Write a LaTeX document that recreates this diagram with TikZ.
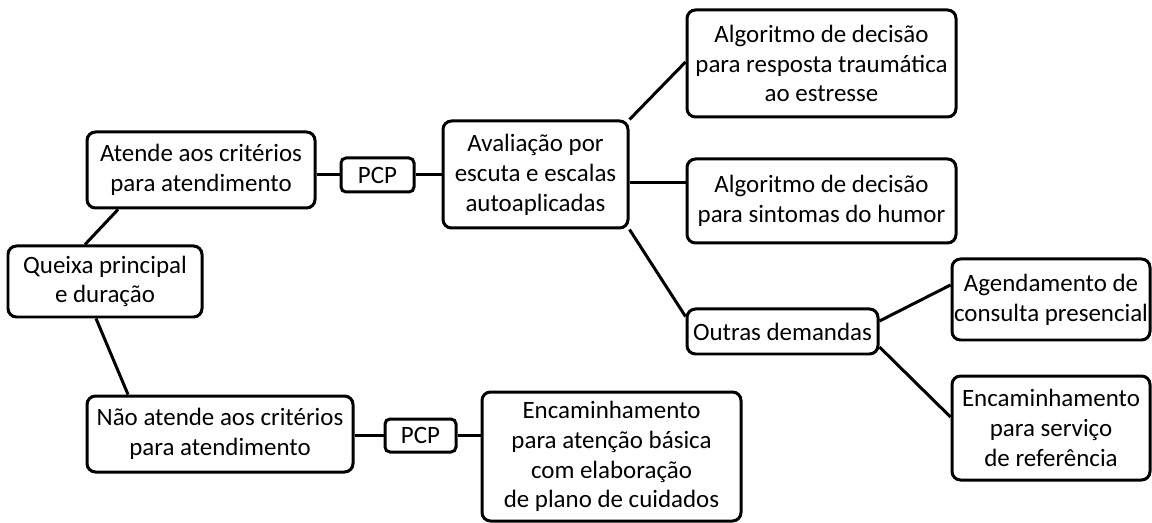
\documentclass[tikz,border=0pt]{standalone}
\usepackage{fontspec}
\setmainfont{Carlito}
\usetikzlibrary{positioning}

\tikzset{
  box/.style={draw, line width=0.06cm, rounded corners=0.17cm, align=center,
    inner sep=0pt, font=\fontsize{14.2}{17}\selectfont},
  pcpbox/.style={box, rounded corners=0.1cm},
  link/.style={line width=0.06cm}
}

\begin{document}
\begin{tikzpicture}[x=0.02cm, y=-0.02cm]
			%%%%% START %%%%%
			\useasboundingbox (0,0) rectangle (1152,523);
			
			\node[box, minimum width=194*0.02cm, minimum height=71*0.02cm] (queixa) at (105,281.5) {Queixa principal\\e duração};
			
			\node[box, minimum width=228*0.02cm, minimum height=76*0.02cm] (atende) at (201,170) {Atende aos critérios\\para atendimento};
			\node[pcpbox, minimum width=73*0.02cm, minimum height=34*0.02cm] (pcpA) at (377.5,175) {PCP};
			\node[box, minimum width=185*0.02cm, minimum height=107*0.02cm] (aval) at (535.5,174.5) {Avaliação por\\escuta e escalas\\autoaplicadas};
			
			\node[box, minimum width=269*0.02cm, minimum height=107*0.02cm] (trauma) at (821.5,63.5) {Algoritmo de decisão\\para resposta traumática\\ao estresse};
			\node[box, minimum width=269*0.02cm, minimum height=84*0.02cm] (humor) at (821.5,201) {Algoritmo de decisão\\para sintomas do humor};
			\node[box, minimum width=191*0.02cm, minimum height=45*0.02cm] (outras) at (782.5,331.5) {Outras demandas};
			
			\node[box, minimum width=198*0.02cm, minimum height=81*0.02cm] (agenda) at (1051,299.5) {Agendamento de\\consulta presencial};
			\node[box, minimum width=198*0.02cm, minimum height=104*0.02cm] (servico) at (1051,428) {Encaminhamento\\para serviço\\de referência};
			
			\node[box, minimum width=266*0.02cm, minimum height=76*0.02cm] (naoat) at (220,434) {Não atende aos critérios\\para atendimento};
			\node[pcpbox, minimum width=71*0.02cm, minimum height=33*0.02cm] (pcpB) at (420.5,435.5) {PCP};
			\node[box, minimum width=259*0.02cm, minimum height=129*0.02cm] (basica) at (611.5,456.5) {Encaminhamento\\para atenção básica\\com elaboração\\de plano de cuidados};
			
			% ramos da queixa
			\draw[link] ([xshift=-0.4cm]queixa.north) -- ([xshift=-1.66cm]atende.south);
			\draw[link] ([xshift=-0.18cm]queixa.south) -- ([xshift=-1.84cm]naoat.north);
			
			% atende
			\draw[link] (pcpA.west) -- (pcpA.west -| atende.east);
			\draw[link] (pcpA.east) -- (pcpA.east -| aval.west);
			\draw[link] (aval.north east) -- ([yshift=0.03cm]trauma.west);
			\draw[link] ([yshift=-0.17cm]aval.east) -- ([yshift=-0.17cm]aval.east -| humor.west);
			\draw[link] (aval.south east) -- ([yshift=0.3cm]outras.west);
			\draw[link] ([yshift=0.21cm]outras.east) -- ([yshift=0.29cm]agenda.west);
			\draw[link] ([yshift=-0.31cm]outras.east) -- ([yshift=0.22cm]servico.west);
			
			% nao atende
			\draw[link] (pcpB.west) -- (pcpB.west -| naoat.east);
			\draw[link] (pcpB.east) -- (pcpB.east -| basica.west);
			
			%%%%% END %%%%%
\end{tikzpicture}
\end{document}
